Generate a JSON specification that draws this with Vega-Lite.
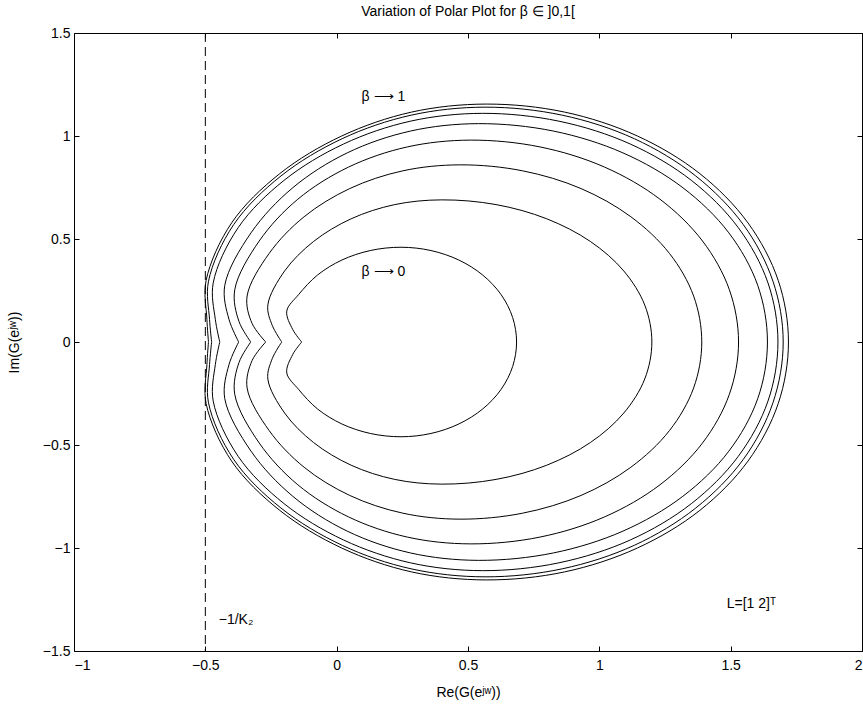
{
  "$schema": "https://vega.github.io/schema/vega-lite/v6.json",
  "autosize": "none",
  "width": 788,
  "height": 618,
  "padding": {"left": 74, "top": 33, "right": 1, "bottom": 58},
  "background": "white",
  "config": {
    "font": "Liberation Sans",
    "view": {"stroke": "black", "strokeWidth": 1},
    "axis": {"grid": false, "domain": false, "tickColor": "black", "tickSize": -5, "labelColor": "black", "labelFontSize": 14, "labelFont": "Liberation Sans", "titleFont": "Liberation Sans", "titleFontWeight": "normal", "titleFontSize": 14, "titleColor": "black"}
  },
  "title": {"text": "Variation of Polar Plot for β ∈ ]0,1[", "fontSize": 14, "fontWeight": "normal", "font": "Liberation Sans", "offset": 7, "color": "black"},
  "datasets": {
    "curves": [
      {"c":1,"i":0,"x":-0.133,"y":0},{"c":1,"i":1,"x":-0.167,"y":0.06},{"c":1,"i":2,"x":-0.19,"y":0.15},{"c":1,"i":3,"x":-0.145,"y":0.23},{"c":1,"i":4,"x":-0.073,"y":0.325},{"c":1,"i":5,"x":0.02,"y":0.398},{"c":1,"i":6,"x":0.128,"y":0.444},{"c":1,"i":7,"x":0.245,"y":0.46},{"c":1,"i":8,"x":0.359,"y":0.444},{"c":1,"i":9,"x":0.465,"y":0.398},{"c":1,"i":10,"x":0.556,"y":0.325},{"c":1,"i":11,"x":0.626,"y":0.23},{"c":1,"i":12,"x":0.670,"y":0.119},{"c":1,"i":13,"x":0.685,"y":0},{"c":1,"i":14,"x":0.670,"y":-0.119},{"c":1,"i":15,"x":0.626,"y":-0.23},{"c":1,"i":16,"x":0.556,"y":-0.325},{"c":1,"i":17,"x":0.465,"y":-0.398},{"c":1,"i":18,"x":0.359,"y":-0.444},{"c":1,"i":19,"x":0.245,"y":-0.46},{"c":1,"i":20,"x":0.128,"y":-0.444},{"c":1,"i":21,"x":0.02,"y":-0.398},{"c":1,"i":22,"x":-0.073,"y":-0.325},{"c":1,"i":23,"x":-0.145,"y":-0.23},{"c":1,"i":24,"x":-0.19,"y":-0.15},{"c":1,"i":25,"x":-0.167,"y":-0.06},{"c":1,"i":26,"x":-0.133,"y":0},

      {"c":2,"i":0,"x":-0.209,"y":0},{"c":2,"i":1,"x":-0.245,"y":0.08},{"c":2,"i":2,"x":-0.262,"y":0.18},{"c":2,"i":3,"x":-0.198,"y":0.345},{"c":2,"i":4,"x":-0.088,"y":0.488},{"c":2,"i":5,"x":0.055,"y":0.598},{"c":2,"i":6,"x":0.221,"y":0.667},{"c":2,"i":7,"x":0.40,"y":0.69},{"c":2,"i":8,"x":0.607,"y":0.667},{"c":2,"i":9,"x":0.80,"y":0.598},{"c":2,"i":10,"x":0.966,"y":0.488},{"c":2,"i":11,"x":1.093,"y":0.345},{"c":2,"i":12,"x":1.173,"y":0.179},{"c":2,"i":13,"x":1.2,"y":0},{"c":2,"i":14,"x":1.173,"y":-0.179},{"c":2,"i":15,"x":1.093,"y":-0.345},{"c":2,"i":16,"x":0.966,"y":-0.488},{"c":2,"i":17,"x":0.80,"y":-0.598},{"c":2,"i":18,"x":0.607,"y":-0.667},{"c":2,"i":19,"x":0.40,"y":-0.69},{"c":2,"i":20,"x":0.221,"y":-0.667},{"c":2,"i":21,"x":0.055,"y":-0.598},{"c":2,"i":22,"x":-0.088,"y":-0.488},{"c":2,"i":23,"x":-0.198,"y":-0.345},{"c":2,"i":24,"x":-0.262,"y":-0.18},{"c":2,"i":25,"x":-0.245,"y":-0.08},{"c":2,"i":26,"x":-0.209,"y":0},

      {"c":3,"i":0,"x":-0.27,"y":0},{"c":3,"i":1,"x":-0.322,"y":0.09},{"c":3,"i":2,"x":-0.341,"y":0.223},{"c":3,"i":3,"x":-0.257,"y":0.43},{"c":3,"i":4,"x":-0.124,"y":0.608},{"c":3,"i":5,"x":0.05,"y":0.745},{"c":3,"i":6,"x":0.252,"y":0.831},{"c":3,"i":7,"x":0.47,"y":0.86},{"c":3,"i":8,"x":0.708,"y":0.831},{"c":3,"i":9,"x":0.93,"y":0.745},{"c":3,"i":10,"x":1.12,"y":0.608},{"c":3,"i":11,"x":1.267,"y":0.43},{"c":3,"i":12,"x":1.359,"y":0.223},{"c":3,"i":13,"x":1.39,"y":0},{"c":3,"i":14,"x":1.359,"y":-0.223},{"c":3,"i":15,"x":1.267,"y":-0.43},{"c":3,"i":16,"x":1.12,"y":-0.608},{"c":3,"i":17,"x":0.93,"y":-0.745},{"c":3,"i":18,"x":0.708,"y":-0.831},{"c":3,"i":19,"x":0.47,"y":-0.86},{"c":3,"i":20,"x":0.252,"y":-0.831},{"c":3,"i":21,"x":0.05,"y":-0.745},{"c":3,"i":22,"x":-0.124,"y":-0.608},{"c":3,"i":23,"x":-0.257,"y":-0.43},{"c":3,"i":24,"x":-0.341,"y":-0.223},{"c":3,"i":25,"x":-0.322,"y":-0.09},{"c":3,"i":26,"x":-0.27,"y":0},

      {"c":4,"i":0,"x":-0.327,"y":0},{"c":4,"i":1,"x":-0.372,"y":0.1},{"c":4,"i":2,"x":-0.388,"y":0.254},{"c":4,"i":3,"x":-0.295,"y":0.49},{"c":4,"i":4,"x":-0.148,"y":0.693},{"c":4,"i":5,"x":0.045,"y":0.849},{"c":4,"i":6,"x":0.269,"y":0.947},{"c":4,"i":7,"x":0.51,"y":0.98},{"c":4,"i":8,"x":0.774,"y":0.947},{"c":4,"i":9,"x":1.02,"y":0.849},{"c":4,"i":10,"x":1.231,"y":0.693},{"c":4,"i":11,"x":1.393,"y":0.49},{"c":4,"i":12,"x":1.495,"y":0.254},{"c":4,"i":13,"x":1.53,"y":0},{"c":4,"i":14,"x":1.495,"y":-0.254},{"c":4,"i":15,"x":1.393,"y":-0.49},{"c":4,"i":16,"x":1.231,"y":-0.693},{"c":4,"i":17,"x":1.02,"y":-0.849},{"c":4,"i":18,"x":0.774,"y":-0.947},{"c":4,"i":19,"x":0.51,"y":-0.98},{"c":4,"i":20,"x":0.269,"y":-0.947},{"c":4,"i":21,"x":0.045,"y":-0.849},{"c":4,"i":22,"x":-0.148,"y":-0.693},{"c":4,"i":23,"x":-0.295,"y":-0.49},{"c":4,"i":24,"x":-0.388,"y":-0.254},{"c":4,"i":25,"x":-0.372,"y":-0.1},{"c":4,"i":26,"x":-0.327,"y":0},

      {"c":5,"i":0,"x":-0.373,"y":0},{"c":5,"i":1,"x":-0.41,"y":0.11},{"c":5,"i":2,"x":-0.426,"y":0.275},{"c":5,"i":3,"x":-0.326,"y":0.53},{"c":5,"i":4,"x":-0.167,"y":0.749},{"c":5,"i":5,"x":0.04,"y":0.918},{"c":5,"i":6,"x":0.281,"y":1.024},{"c":5,"i":7,"x":0.54,"y":1.06},{"c":5,"i":8,"x":0.825,"y":1.024},{"c":5,"i":9,"x":1.09,"y":0.918},{"c":5,"i":10,"x":1.318,"y":0.749},{"c":5,"i":11,"x":1.493,"y":0.53},{"c":5,"i":12,"x":1.603,"y":0.275},{"c":5,"i":13,"x":1.64,"y":0},{"c":5,"i":14,"x":1.603,"y":-0.275},{"c":5,"i":15,"x":1.493,"y":-0.53},{"c":5,"i":16,"x":1.318,"y":-0.749},{"c":5,"i":17,"x":1.09,"y":-0.918},{"c":5,"i":18,"x":0.825,"y":-1.024},{"c":5,"i":19,"x":0.54,"y":-1.06},{"c":5,"i":20,"x":0.281,"y":-1.024},{"c":5,"i":21,"x":0.04,"y":-0.918},{"c":5,"i":22,"x":-0.167,"y":-0.749},{"c":5,"i":23,"x":-0.326,"y":-0.53},{"c":5,"i":24,"x":-0.426,"y":-0.275},{"c":5,"i":25,"x":-0.41,"y":-0.11},{"c":5,"i":26,"x":-0.373,"y":0},

      {"c":6,"i":0,"x":-0.445,"y":0},{"c":6,"i":1,"x":-0.462,"y":0.11},{"c":6,"i":2,"x":-0.47,"y":0.287},{"c":6,"i":3,"x":-0.375,"y":0.555},{"c":6,"i":4,"x":-0.2,"y":0.785},{"c":6,"i":5,"x":0.026,"y":0.961},{"c":6,"i":6,"x":0.281,"y":1.072},{"c":6,"i":7,"x":0.555,"y":1.11},{"c":6,"i":8,"x":0.846,"y":1.072},{"c":6,"i":9,"x":1.118,"y":0.961},{"c":6,"i":10,"x":1.35,"y":0.785},{"c":6,"i":11,"x":1.529,"y":0.555},{"c":6,"i":12,"x":1.642,"y":0.287},{"c":6,"i":13,"x":1.68,"y":0},{"c":6,"i":14,"x":1.642,"y":-0.287},{"c":6,"i":15,"x":1.529,"y":-0.555},{"c":6,"i":16,"x":1.35,"y":-0.785},{"c":6,"i":17,"x":1.118,"y":-0.961},{"c":6,"i":18,"x":0.846,"y":-1.072},{"c":6,"i":19,"x":0.555,"y":-1.11},{"c":6,"i":20,"x":0.281,"y":-1.072},{"c":6,"i":21,"x":0.026,"y":-0.961},{"c":6,"i":22,"x":-0.2,"y":-0.785},{"c":6,"i":23,"x":-0.375,"y":-0.555},{"c":6,"i":24,"x":-0.47,"y":-0.287},{"c":6,"i":25,"x":-0.462,"y":-0.11},{"c":6,"i":26,"x":-0.445,"y":0},

      {"c":7,"i":0,"x":-0.476,"y":0},{"c":7,"i":1,"x":-0.484,"y":0.11},{"c":7,"i":2,"x":-0.488,"y":0.295},{"c":7,"i":3,"x":-0.392,"y":0.57},{"c":7,"i":4,"x":-0.212,"y":0.806},{"c":7,"i":5,"x":0.021,"y":0.987},{"c":7,"i":6,"x":0.283,"y":1.101},{"c":7,"i":7,"x":0.565,"y":1.14},{"c":7,"i":8,"x":0.859,"y":1.101},{"c":7,"i":9,"x":1.133,"y":0.987},{"c":7,"i":10,"x":1.367,"y":0.806},{"c":7,"i":11,"x":1.548,"y":0.57},{"c":7,"i":12,"x":1.661,"y":0.295},{"c":7,"i":13,"x":1.70,"y":0},{"c":7,"i":14,"x":1.661,"y":-0.295},{"c":7,"i":15,"x":1.548,"y":-0.57},{"c":7,"i":16,"x":1.367,"y":-0.806},{"c":7,"i":17,"x":1.133,"y":-0.987},{"c":7,"i":18,"x":0.859,"y":-1.101},{"c":7,"i":19,"x":0.565,"y":-1.14},{"c":7,"i":20,"x":0.283,"y":-1.101},{"c":7,"i":21,"x":0.021,"y":-0.987},{"c":7,"i":22,"x":-0.212,"y":-0.806},{"c":7,"i":23,"x":-0.392,"y":-0.57},{"c":7,"i":24,"x":-0.488,"y":-0.295},{"c":7,"i":25,"x":-0.484,"y":-0.11},{"c":7,"i":26,"x":-0.476,"y":0},

      {"c":8,"i":0,"x":-0.488,"y":0},{"c":8,"i":1,"x":-0.494,"y":0.11},{"c":8,"i":2,"x":-0.497,"y":0.299},{"c":8,"i":3,"x":-0.4,"y":0.578},{"c":8,"i":4,"x":-0.217,"y":0.817},{"c":8,"i":5,"x":0.019,"y":1.0},{"c":8,"i":6,"x":0.285,"y":1.116},{"c":8,"i":7,"x":0.57,"y":1.155},{"c":8,"i":8,"x":0.868,"y":1.116},{"c":8,"i":9,"x":1.145,"y":1.0},{"c":8,"i":10,"x":1.383,"y":0.817},{"c":8,"i":11,"x":1.566,"y":0.578},{"c":8,"i":12,"x":1.681,"y":0.299},{"c":8,"i":13,"x":1.72,"y":0},{"c":8,"i":14,"x":1.681,"y":-0.299},{"c":8,"i":15,"x":1.566,"y":-0.578},{"c":8,"i":16,"x":1.383,"y":-0.817},{"c":8,"i":17,"x":1.145,"y":-1.0},{"c":8,"i":18,"x":0.868,"y":-1.116},{"c":8,"i":19,"x":0.57,"y":-1.155},{"c":8,"i":20,"x":0.285,"y":-1.116},{"c":8,"i":21,"x":0.019,"y":-1.0},{"c":8,"i":22,"x":-0.217,"y":-0.817},{"c":8,"i":23,"x":-0.4,"y":-0.578},{"c":8,"i":24,"x":-0.497,"y":-0.299},{"c":8,"i":25,"x":-0.494,"y":-0.11},{"c":8,"i":26,"x":-0.488,"y":0}
    ],
    "vline": [{"x": -0.5}],
    "notes": [
      {"label": "β ⟶ 1", "x": 0.095, "y": 1.19},
      {"label": "β ⟶ 0", "x": 0.095, "y": 0.34},
      {"label": "−1/K₂", "x": -0.449, "y": -1.35},
      {"label": "L=[1 2]ᵀ", "x": 1.485, "y": -1.272}
    ]
  },
  "layer": [
    {
      "data": {"name": "curves"},
      "mark": {"type": "line", "interpolate": "catmull-rom", "color": "black", "strokeWidth": 1},
      "encoding": {
        "x": {"field": "x", "type": "quantitative", "scale": {"domain": [-1, 2], "nice": false, "zero": false},
              "axis": {"orient": "bottom", "values": [-1, -0.5, 0, 0.5, 1, 1.5, 2], "format": "~g", "labelPadding": 12, "title": "Re(G(eʲʷ))", "titleX": 394, "titleY": 41, "titleBaseline": "middle", "titleAlign": "center"}},
        "y": {"field": "y", "type": "quantitative", "scale": {"domain": [-1.5, 1.5], "nice": false, "zero": false},
              "axis": {"orient": "left", "values": [-1.5, -1, -0.5, 0, 0.5, 1, 1.5], "format": "~g", "labelPadding": 9, "title": "Im(G(eʲʷ))", "titleX": -60, "titleY": 309, "titleAngle": 270, "titleBaseline": "middle", "titleAlign": "center"}},
        "detail": {"field": "c"},
        "order": {"field": "i", "type": "quantitative"}
      }
    },
    {
      "data": {"name": "vline"},
      "mark": {"type": "rule", "color": "black", "strokeWidth": 1, "strokeDash": [9, 5]},
      "encoding": {
        "x": {"field": "x", "type": "quantitative", "axis": {"orient": "top", "values": [-1, -0.5, 0, 0.5, 1, 1.5, 2], "labels": false, "title": null}}
      }
    },
    {
      "data": {"name": "notes"},
      "mark": {"type": "text", "align": "left", "baseline": "middle", "fontSize": 14, "font": "Liberation Sans", "color": "black"},
      "encoding": {
        "x": {"field": "x", "type": "quantitative", "axis": null},
        "y": {"field": "y", "type": "quantitative", "axis": {"orient": "right", "values": [-1.5, -1, -0.5, 0, 0.5, 1, 1.5], "labels": false, "title": null}},
        "text": {"field": "label"}
      }
    }
  ]
}
